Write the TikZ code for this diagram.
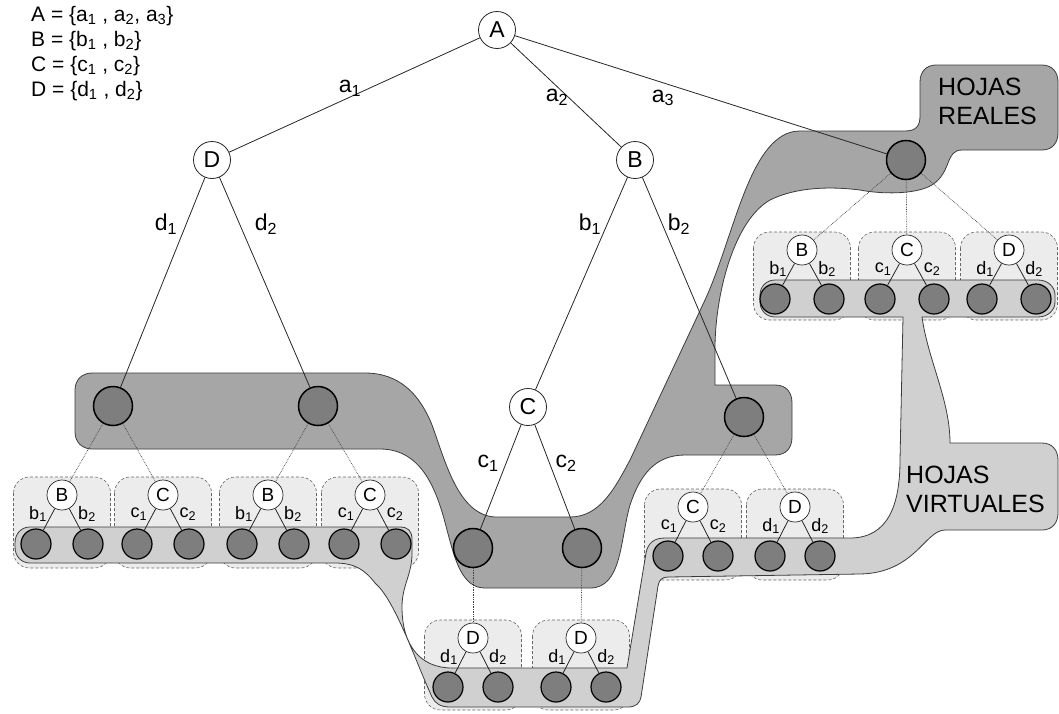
\documentclass[tikz,border=0pt]{standalone}
\usepackage{fontspec}
\setmainfont{Liberation Sans}
\usetikzlibrary{calc}
\pgfdeclarelayer{bgA}
\pgfdeclarelayer{bgB}
\pgfdeclarelayer{bgC}
\pgfsetlayers{bgA,bgB,bgC,main}
\definecolor{darkreg}{RGB}{166,166,166}
\definecolor{lightreg}{RGB}{208,208,208}
\definecolor{boxfill}{RGB}{236,236,236}
\definecolor{leaffill}{RGB}{126,126,126}
\definecolor{regline}{RGB}{60,60,60}
\newcommand\mysb[1]{\textsubscript{#1}}
\tikzset{
  mnode/.style={circle, draw=black!85, line width=0.8pt, fill=white, minimum size=37pt, inner sep=0pt, font=\fontsize{23}{23}\selectfont},
  bleaf/.style={circle, draw=black, line width=1.5pt, fill=leaffill, minimum size=39pt, inner sep=0pt},
  sroot/.style={circle, draw=black!85, line width=0.7pt, fill=white, minimum size=30pt, inner sep=0pt, font=\fontsize{19}{19}\selectfont},
  sleaf/.style={circle, draw=black, line width=1.2pt, fill=leaffill, minimum size=30pt, inner sep=0pt},
  edge/.style={draw=black!85, line width=0.8pt},
  dots/.style={draw=black!75, line width=0.7pt, densely dotted},
  elab/.style={font=\fontsize{23}{23}\selectfont, inner sep=0pt},
  slab/.style={font=\fontsize{18}{18}\selectfont, inner sep=0pt},
  sbox/.style={draw=black!60, densely dashed, line width=0.6pt, fill=boxfill, rounded corners=16pt},
  darkregion/.style={draw=regline, line width=0.8pt, fill=darkreg},
  lightregion/.style={draw=regline, line width=0.8pt, fill=lightreg},
  biglab/.style={font=\fontsize{25}{29}\selectfont, align=left, inner sep=0pt, anchor=west},
}
% name, x, y, Letter, letter, dx, box bottom offset
\newcommand\mysubtree[7]{%
  \begin{pgfonlayer}{bgA}
    \draw[sbox] (#2-48.5,#3-18) rectangle (#2+48.5,#3+#7);
  \end{pgfonlayer}
  \node[sroot] (#1) at (#2,#3) {#4};
  \node[sleaf] (#1a) at (#2-#6,#3+49) {};
  \node[sleaf] (#1b) at (#2+#6,#3+49) {};
  \draw[edge] (#1) -- (#1a);
  \draw[edge] (#1) -- (#1b);
  \node[slab] (#1la) at (#2-24,#3+19) {#5\mysb{1}};
  \node[slab] (#1lb) at (#2+25,#3+19) {#5\mysb{2}};
}
\begin{document}
\begin{tikzpicture}[x=1pt,y=-1pt]
\useasboundingbox (0,0) rectangle (1059,713);

% ---------- light region (HOJAS VIRTUALES)
\begin{pgfonlayer}{bgB}
\path[lightregion] (30,527) -- (400,527)
  .. controls (408,527) and (412,531) .. (412,539)
  -- (412,553)
  .. controls (412,575) and (402,585) .. (402,607)
  .. controls (402,645) and (420,668) .. (452,668)
  -- (627,668)
  -- (646,553)
  .. controls (648,543) and (654,538) .. (665,538)
  -- (850,538)
  .. controls (888,538) and (900,505) .. (900,460)
  -- (903,317)
  -- (775,317)
  .. controls (766,317) and (760,310) .. (760,302)
  -- (760,295)
  .. controls (760,287) and (766,280) .. (775,280)
  -- (1038,280)
  .. controls (1048,280) and (1055,287) .. (1055,295)
  -- (1055,302)
  .. controls (1055,310) and (1048,317) .. (1038,317)
  -- (922,317)
  .. controls (928,360) and (950,400) .. (950,443)
  -- (1042,443)
  .. controls (1052,443) and (1058,450) .. (1058,460)
  -- (1058,513)
  .. controls (1058,523) and (1052,530) .. (1042,530)
  -- (945,530)
  .. controls (925,530) and (915,573) .. (860,574)
  -- (668,577)
  .. controls (662,577) and (659,580) .. (658,586)
  -- (641,697)
  .. controls (640,703) and (636,707) .. (628,707)
  -- (450,707)
  .. controls (440,707) and (435,703) .. (432,697)
  .. controls (415,660) and (395,600) .. (375,583)
  .. controls (365,570) and (355,563) .. (335,563)
  -- (30,563)
  .. controls (21,563) and (15,556) .. (15,547)
  -- (15,543)
  .. controls (15,534) and (21,527) .. (30,527) -- cycle;
\end{pgfonlayer}

% ---------- dark region (HOJAS REALES)
\begin{pgfonlayer}{bgC}
\path[darkregion] (92,373) -- (365,373)
  .. controls (400,373) and (420,395) .. (432,425)
  .. controls (445,460) and (458,515) .. (495,517)
  -- (570,517)
  .. controls (600,517) and (615,488) .. (630,460)
  -- (705,300)
  .. controls (735,235) and (750,131) .. (800,131)
  -- (905,131)
  .. controls (916,131) and (920,126) .. (920,116)
  -- (920,82)
  .. controls (920,72) and (926,65) .. (936,65)
  -- (1042,65)
  .. controls (1052,65) and (1058,72) .. (1058,82)
  -- (1058,133)
  .. controls (1058,143) and (1052,150) .. (1042,150)
  -- (962,150)
  .. controls (945,150) and (952,172) .. (932,185)
  .. controls (915,195) and (880,194) .. (860,190)
  .. controls (820,185) and (790,190) .. (770,200)
  .. controls (735,220) and (716,290) .. (715,345)
  -- (715,385)
  -- (775,385)
  .. controls (786,385) and (792,392) .. (792,403)
  -- (792,437)
  .. controls (792,448) and (786,455) .. (775,455)
  -- (685,455)
  .. controls (655,455) and (640,475) .. (630,505)
  .. controls (620,540) and (622,588) .. (590,588)
  -- (485,588)
  .. controls (462,588) and (455,560) .. (447,530)
  .. controls (437,490) and (422,449) .. (380,449)
  -- (92,449)
  .. controls (82,449) and (75,442) .. (75,432)
  -- (75,390)
  .. controls (75,380) and (82,373) .. (92,373) -- cycle;
\end{pgfonlayer}

% ---------- labels of regions
\node[biglab] (reales) at (938,101) {HOJAS\\REALES};
\node[biglab] (virtuales) at (906,489) {HOJAS\\VIRTUALES};

% ---------- legend
\node[font=\fontsize{21}{25}\selectfont, align=left, anchor=north west, inner sep=0pt] (legend) at (31,6)
  {A = \{a\mysb{1} , a\mysb{2}, a\mysb{3}\}\\
   B = \{b\mysb{1} , b\mysb{2}\}\\
   C = \{c\mysb{1} , c\mysb{2}\}\\
   D = \{d\mysb{1} , d\mysb{2}\}};

% ---------- main tree
\node[mnode] (A) at (497,30) {A};
\node[mnode] (D) at (212,160) {D};
\node[mnode] (B) at (635,160) {B};
\node[mnode] (C) at (528,407) {C};
\node[bleaf] (a3) at (906,160) {};
\node[bleaf] (d1) at (113,406) {};
\node[bleaf] (d2) at (318,406) {};
\node[bleaf] (b2) at (744,417) {};
\node[bleaf] (c1) at (473,548) {};
\node[bleaf] (c2) at (582,548) {};

\draw[edge] (A) -- (D);
\draw[edge] (A) -- (B);
\draw[edge] (A) -- (a3);
\draw[edge] (D) -- (d1);
\draw[edge] (D) -- (d2);
\draw[edge] (B) -- (C);
\draw[edge] (B) -- (b2);
\draw[edge] (C) -- (c1);
\draw[edge] (C) -- (c2);

\node[elab] (la1) at (350,88) {a\mysb{1}};
\node[elab] (la2) at (557,97) {a\mysb{2}};
\node[elab] (la3) at (663,98) {a\mysb{3}};
\node[elab] (ld1) at (166,224) {d\mysb{1}};
\node[elab] (ld2) at (266,224) {d\mysb{2}};
\node[elab] (lb1) at (590,224) {b\mysb{1}};
\node[elab] (lb2) at (679,224) {b\mysb{2}};
\node[elab] (lc1) at (488,463) {c\mysb{1}};
\node[elab] (lc2) at (566,463) {c\mysb{2}};

% ---------- subtrees
\mysubtree{sA}{62}{495}{B}{b}{26}{73}
\mysubtree{sB}{163}{495}{C}{c}{26}{73}
\mysubtree{sC}{268}{495}{B}{b}{26}{73}
\mysubtree{sD}{370}{495}{C}{c}{26}{73}
\mysubtree{sE}{473}{638}{D}{d}{25}{72}
\mysubtree{sF}{581}{638}{D}{d}{25}{72}
\mysubtree{sG}{693}{507}{C}{c}{25}{73}
\mysubtree{sH}{795}{507}{D}{d}{25}{73}
\mysubtree{sI}{802}{250}{B}{b}{27}{70}
\mysubtree{sJ}{907}{250}{C}{c}{27}{70}
\mysubtree{sK}{1009}{250}{D}{d}{27}{70}

% ---------- dotted links
\draw[dots] (d1) -- (sA);
\draw[dots] (d1) -- (sB);
\draw[dots] (d2) -- (sC);
\draw[dots] (d2) -- (sD);
\draw[dots] (c1) -- (sE);
\draw[dots] (c2) -- (sF);
\draw[dots] (b2) -- (sG);
\draw[dots] (b2) -- (sH);
\draw[dots] (a3) -- (sI);
\draw[dots] (a3) -- (sJ);
\draw[dots] (a3) -- (sK);
\end{tikzpicture}
\end{document}
